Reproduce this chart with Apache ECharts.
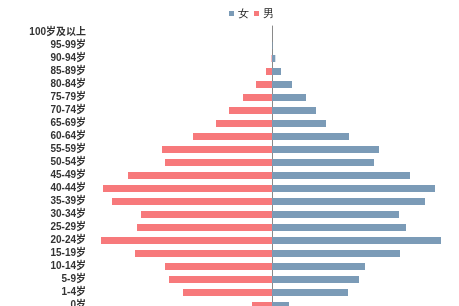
<!DOCTYPE html>
<html><head><meta charset="utf-8">
<script src="https://cdn.jsdelivr.net/npm/echarts@6/dist/echarts.min.js"></script>
<style>html,body{margin:0;padding:0;background:#fff;overflow:hidden}#c{width:459px;height:320px}</style>
</head><body><div id="c"></div>
<script>
const categories = ['0岁','1-4岁','5-9岁','10-14岁','15-19岁','20-24岁','25-29岁','30-34岁','35-39岁','40-44岁','45-49岁','50-54岁','55-59岁','60-64岁','65-69岁','70-74岁','75-79岁','80-84岁','85-89岁','90-94岁','95-99岁','100岁及以上'];
const female = [17,76,87,93,128,169,134,127,153,163,138,102,107,77,54,44,34,20,9,3.3,0.5,0];
const male = [-20,-89,-103,-107,-137,-171,-135,-131,-160,-169,-144,-107,-110,-79,-56,-43,-29,-16,-6,-0.5,0,0];

const chart = echarts.init(document.getElementById('c'));
chart.setOption({
  animation: false,
  legend: {
    top: 3, left: 224, padding: [5, 5], itemWidth: 5, itemHeight: 5, itemGap: 5, icon: 'rect',
    textStyle: {fontSize: 11, color: '#222', padding: [0, 0, 0, -1]},
    data: ['女','男']
  },
  grid: {left: 92, width: 360, top: 26, height: 286, containLabel: false, outerBoundsMode: 'none'},
  xAxis: {type: 'value', min: -180, max: 180, show: false},
  yAxis: {
    type: 'category', data: categories,
    axisTick: {show: false},
    axisLine: {onZero: true, lineStyle: {color: '#8a8a8a', width: 1}},
    axisLabel: {interval: 0, fontSize: 10, fontWeight: 'bold', color: '#333', margin: 6, fontFamily: 'Liberation Sans, Noto Sans CJK SC, sans-serif'}
  },
  series: [
    {name: '女', type: 'bar', stack: 'p', data: female, barWidth: 7, itemStyle: {color: '#7b9bb7'}},
    {name: '男', type: 'bar', stack: 'p', data: male, barWidth: 7, itemStyle: {color: '#f7797b'}}
  ]
});
</script></body></html>
